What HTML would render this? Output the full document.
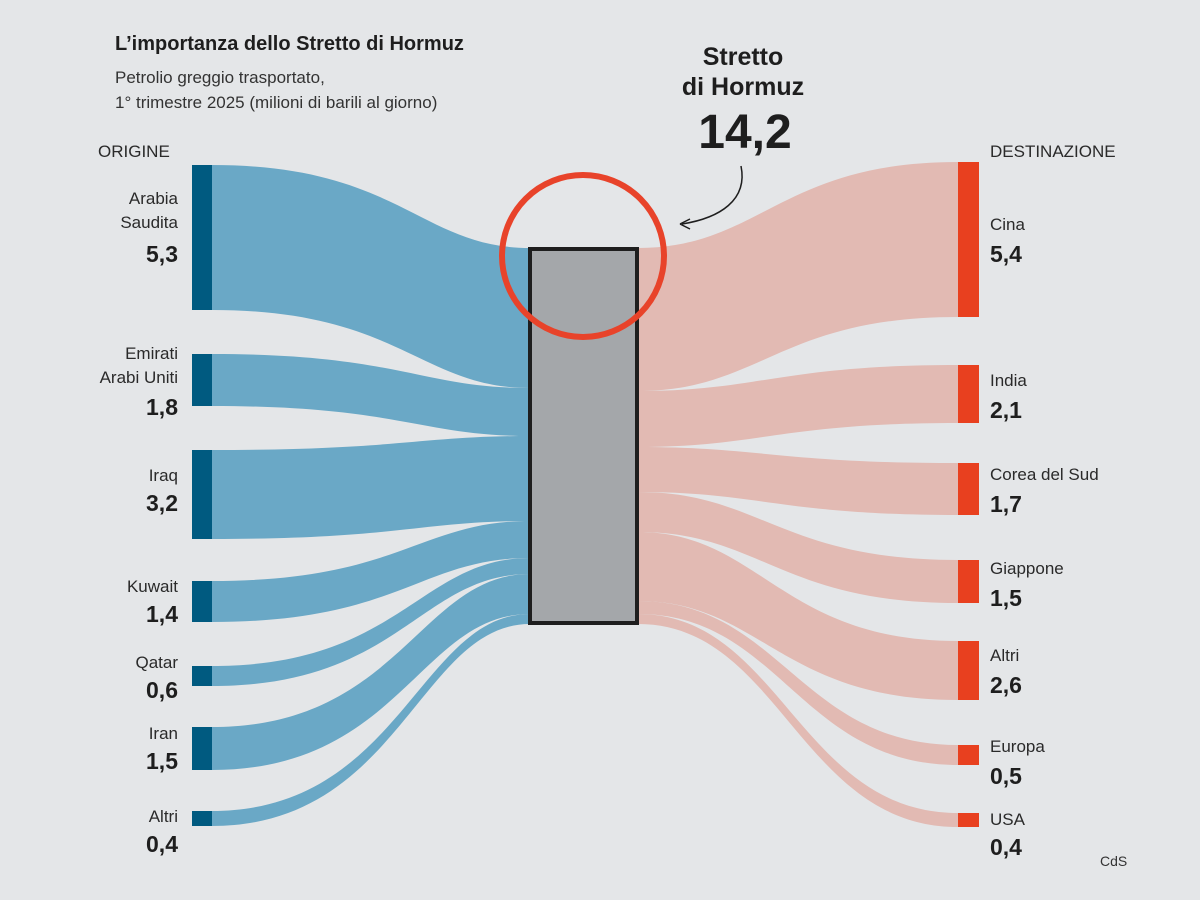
<!DOCTYPE html>
<html><head><meta charset="utf-8"><style>
html,body{margin:0;padding:0;background:#e4e6e8;}
svg{display:block;font-family:"Liberation Sans",sans-serif;}
.n{font-size:17px;fill:#2a2a2a;}
.v{font-size:23px;font-weight:bold;fill:#1e1e1e;}
</style></head><body>
<svg width="1200" height="900" viewBox="0 0 1200 900" xmlns="http://www.w3.org/2000/svg">
<rect width="1200" height="900" fill="#e4e6e8"/>
<text x="115" y="50" font-size="20" font-weight="bold" fill="#1e1e1e">L’importanza dello Stretto di Hormuz</text>
<text x="115" y="83" font-size="17" fill="#333">Petrolio greggio trasportato,</text>
<text x="115" y="108" font-size="17" fill="#333">1° trimestre 2025 (milioni di barili al giorno)</text>
<text x="98" y="157" font-size="17" fill="#2a2a2a">ORIGINE</text>
<text x="990" y="157" font-size="17" fill="#2a2a2a">DESTINAZIONE</text>

<g fill="#6aa8c6">
<path d="M212,165 C400,165 420,248 530,248 L530,388 C420,388 400,310 212,310 Z"/>
<path d="M212,354 C400,354 420,388 530,388 L530,436 C420,436 400,406 212,406 Z"/>
<path d="M212,450 C400,450 420,436 530,436 L530,521 C420,521 400,539 212,539 Z"/>
<path d="M212,581 C400,581 420,521 530,521 L530,558 C420,558 400,622 212,622 Z"/>
<path d="M212,666 C400,666 420,558 530,558 L530,574 C420,574 400,686 212,686 Z"/>
<path d="M212,727 C400,727 420,574 530,574 L530,614 C420,614 400,770 212,770 Z"/>
<path d="M212,811 C400,811 420,614 530,614 L530,624 C420,624 400,826 212,826 Z"/>
</g>
<g fill="#e2bab3">
<path d="M638,248 C760,248 780,162 958,162 L958,317 C780,317 760,391 638,391 Z"/>
<path d="M638,391 C760,391 780,365 958,365 L958,423 C780,423 760,447 638,447 Z"/>
<path d="M638,447 C760,447 780,463 958,463 L958,515 C780,515 760,492 638,492 Z"/>
<path d="M638,492 C760,492 780,560 958,560 L958,603 C780,603 760,532 638,532 Z"/>
<path d="M638,532 C760,532 780,641 958,641 L958,700 C780,700 760,601 638,601 Z"/>
<path d="M638,601 C780,601 800,745 958,745 L958,765 C800,765 780,614 638,614 Z"/>
<path d="M638,614 C780,614 800,813 958,813 L958,827 C800,827 780,624 638,624 Z"/>
</g>
<g fill="#005a80">
<rect x="192" y="165" width="20" height="145"/>
<rect x="192" y="354" width="20" height="52"/>
<rect x="192" y="450" width="20" height="89"/>
<rect x="192" y="581" width="20" height="41"/>
<rect x="192" y="666" width="20" height="20"/>
<rect x="192" y="727" width="20" height="43"/>
<rect x="192" y="811" width="20" height="15"/>
</g>
<g fill="#e8401f">
<rect x="958" y="162" width="21" height="155"/>
<rect x="958" y="365" width="21" height="58"/>
<rect x="958" y="463" width="21" height="52"/>
<rect x="958" y="560" width="21" height="43"/>
<rect x="958" y="641" width="21" height="59"/>
<rect x="958" y="745" width="21" height="20"/>
<rect x="958" y="813" width="21" height="14"/>
</g>
<rect x="530" y="249" width="107" height="374" fill="#a4a7aa" stroke="#1e1e1e" stroke-width="4"/>
<circle cx="583" cy="256" r="81" fill="none" stroke="#e8432a" stroke-width="6"/>

<g text-anchor="end">
<text class="n" x="178" y="204">Arabia</text>
<text class="n" x="178" y="228">Saudita</text>
<text class="v" x="178" y="262">5,3</text>
<text class="n" x="178" y="359">Emirati</text>
<text class="n" x="178" y="383">Arabi Uniti</text>
<text class="v" x="178" y="415">1,8</text>
<text class="n" x="178" y="481">Iraq</text>
<text class="v" x="178" y="511">3,2</text>
<text class="n" x="178" y="592">Kuwait</text>
<text class="v" x="178" y="622">1,4</text>
<text class="n" x="178" y="668">Qatar</text>
<text class="v" x="178" y="698">0,6</text>
<text class="n" x="178" y="739">Iran</text>
<text class="v" x="178" y="769">1,5</text>
<text class="n" x="178" y="822">Altri</text>
<text class="v" x="178" y="852">0,4</text>
</g>
<g>
<text class="n" x="990" y="230">Cina</text>
<text class="v" x="990" y="262">5,4</text>
<text class="n" x="990" y="386">India</text>
<text class="v" x="990" y="418">2,1</text>
<text class="n" x="990" y="480">Corea del Sud</text>
<text class="v" x="990" y="512">1,7</text>
<text class="n" x="990" y="574">Giappone</text>
<text class="v" x="990" y="606">1,5</text>
<text class="n" x="990" y="661">Altri</text>
<text class="v" x="990" y="693">2,6</text>
<text class="n" x="990" y="752">Europa</text>
<text class="v" x="990" y="784">0,5</text>
<text class="n" x="990" y="825">USA</text>
<text class="v" x="990" y="855">0,4</text>
</g>
<g text-anchor="middle" fill="#1e1e1e" font-weight="bold">
<text x="743" y="65" font-size="25">Stretto</text>
<text x="743" y="95" font-size="25">di Hormuz</text>
<text x="745" y="148" font-size="48">14,2</text>
</g>
<path d="M741,166 C748,200 720,218 682,224" fill="none" stroke="#1e1e1e" stroke-width="1.5"/>
<path d="M680,224 L690,219 M680,224 L690,229" fill="none" stroke="#1e1e1e" stroke-width="1.5"/>
<text x="1100" y="866" font-size="14" fill="#333">CdS</text>
</svg>
</body></html>
